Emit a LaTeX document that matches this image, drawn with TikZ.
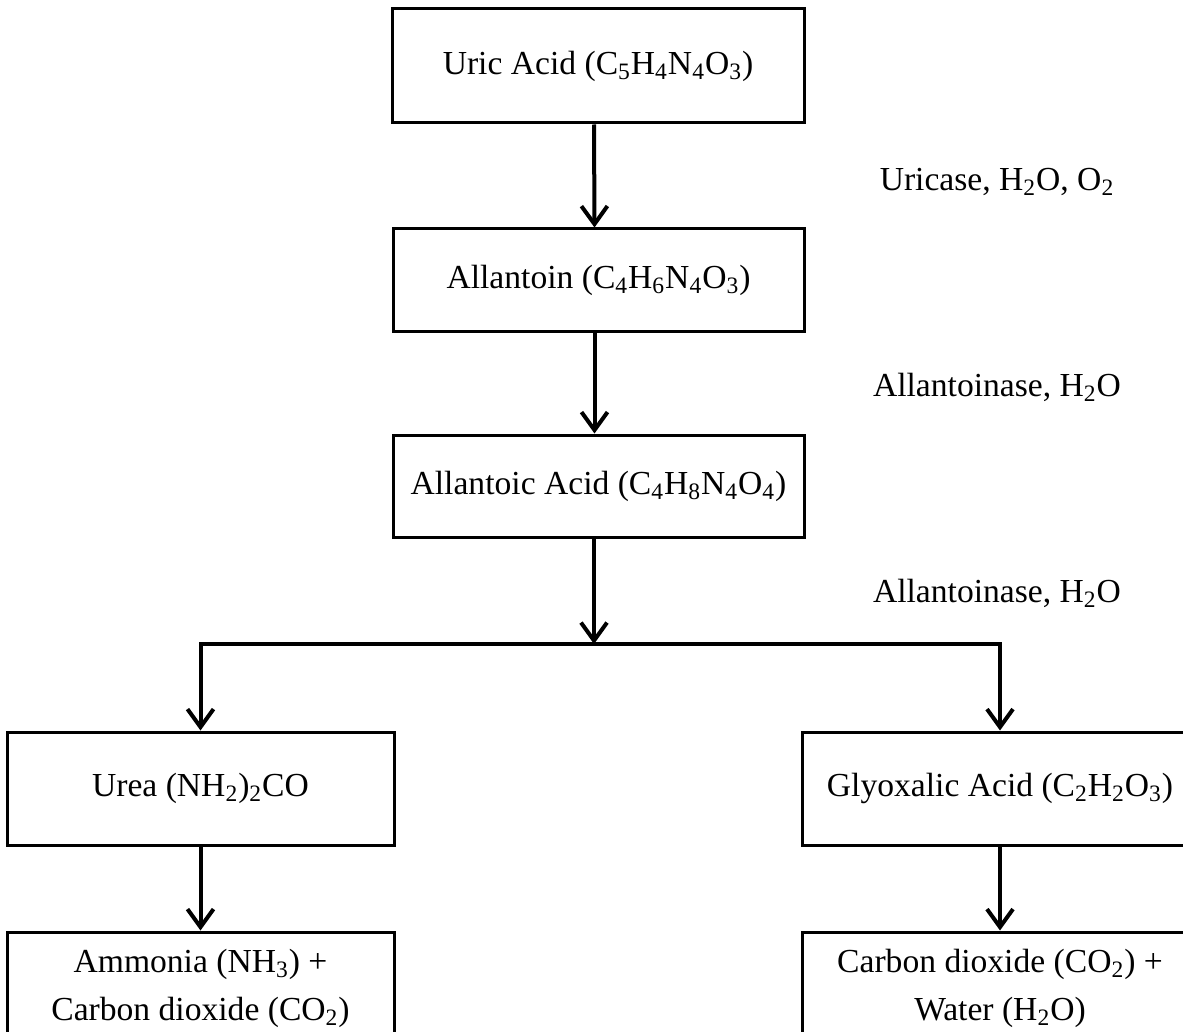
\documentclass[tikz,border=0pt]{standalone}
\usepackage{fontspec}
\setmainfont{Liberation Serif}
\usetikzlibrary{arrows.meta}
\usetikzlibrary{positioning}
\usetikzlibrary{math}

\begin{document}
\begin{tikzpicture}[x=0.5pt,y=-0.5pt,line width=2pt,
  box/.style={draw,line width=1.5pt,align=center,inner sep=0pt,
    font=\fontsize{16.8}{24}\selectfont},
  enzyme/.style={inner sep=0pt,font=\fontsize{16.8}{24}\selectfont},
  flow/.style={-{Straight Barb[length=9pt,width=13pt]}}]

  \tikzmath{
    \colmid   = 598.5; % centre of the upper column
    \colleft  = 200.5; % centre of the left column
    \colright = 1000;  % centre of the right column
    \notex    = 997;   % centre of the enzyme notes
  }

  % page
  \clip (0,0) rectangle (1183,1032);

  % main chain
  \node[box,minimum width=206pt,minimum height=57pt] (uric) at (598,66)
    {Uric Acid (C\textsubscript{5}H\textsubscript{4}N\textsubscript{4}O\textsubscript{3})};
  \node[box,minimum width=205.5pt,minimum height=51pt] (allantoin) at (\colmid,280)
    {Allantoin (C\textsubscript{4}H\textsubscript{6}N\textsubscript{4}O\textsubscript{3})};
  \node[box,minimum width=205.5pt,minimum height=51pt] (allantoic) at (\colmid,486)
    {Allantoic Acid (C\textsubscript{4}H\textsubscript{8}N\textsubscript{4}O\textsubscript{4})};

  % two branches
  \node[box,minimum width=193.5pt,minimum height=56.5pt] (urea) at (\colleft,788.5)
    {Urea (NH\textsubscript{2})\textsubscript{2}CO};
  \node[box,minimum width=198pt,minimum height=56.5pt] (glyox) at (\colright,788.5)
    {Glyoxalic Acid (C\textsubscript{2}H\textsubscript{2}O\textsubscript{3})};
  \node[box,minimum width=193.5pt,minimum height=56.5pt] (ammonia) at (\colleft,988.5)
    {Ammonia (NH\textsubscript{3}) +\\Carbon dioxide (CO\textsubscript{2})};
  \node[box,minimum width=198pt,minimum height=56.5pt] (water) at (\colright,988.5)
    {Carbon dioxide (CO\textsubscript{2}) +\\Water (H\textsubscript{2}O)};

  % enzyme notes
  \node[enzyme] (uricase) at (\notex,182) {Uricase, H\textsubscript{2}O, O\textsubscript{2}};
  \node[enzyme] (ase1) at (\notex,387) {Allantoinase, H\textsubscript{2}O};
  \node[enzyme] (ase2) at (\notex,593) {Allantoinase, H\textsubscript{2}O};

  % arrows
  \coordinate (fork) at (594,644);
  \draw[flow] ([xshift=-2pt]uric.south) -- ([xshift=-2pt]allantoin.north);
  \draw[flow] ([xshift=-2pt]allantoin.south) -- ([xshift=-2pt]allantoic.north);
  \draw[flow] (allantoic.south -| fork) -- (fork);
  \draw[flow] (fork) -| (urea.north);
  \draw[flow] (fork) -| (glyox.north);
  \draw[flow] (urea) -- (ammonia);
  \draw[flow] (glyox) -- (water);

\end{tikzpicture}
\end{document}
